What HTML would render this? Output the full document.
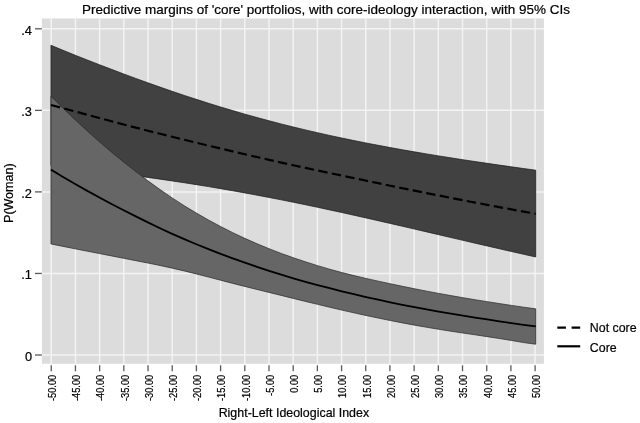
<!DOCTYPE html>
<html lang="en"><head><meta charset="utf-8"><title>Predictive margins</title>
<style>html,body{margin:0;padding:0;background:#fff}svg{display:block}</style></head>
<body>
<svg width="640" height="423" viewBox="0 0 640 423">
<rect width="640" height="423" fill="#fff"/>
<rect x="41.9" y="18.5" width="502.0" height="345.25" fill="#dcdcdc"/>
<g stroke="#f3f3f3" stroke-width="1.5"><line x1="51.25" y1="18.5" x2="51.25" y2="363.75"/><line x1="75.44" y1="18.5" x2="75.44" y2="363.75"/><line x1="99.64" y1="18.5" x2="99.64" y2="363.75"/><line x1="123.83" y1="18.5" x2="123.83" y2="363.75"/><line x1="148.02" y1="18.5" x2="148.02" y2="363.75"/><line x1="172.21" y1="18.5" x2="172.21" y2="363.75"/><line x1="196.41" y1="18.5" x2="196.41" y2="363.75"/><line x1="220.60" y1="18.5" x2="220.60" y2="363.75"/><line x1="244.79" y1="18.5" x2="244.79" y2="363.75"/><line x1="268.98" y1="18.5" x2="268.98" y2="363.75"/><line x1="293.18" y1="18.5" x2="293.18" y2="363.75"/><line x1="317.37" y1="18.5" x2="317.37" y2="363.75"/><line x1="341.56" y1="18.5" x2="341.56" y2="363.75"/><line x1="365.75" y1="18.5" x2="365.75" y2="363.75"/><line x1="389.94" y1="18.5" x2="389.94" y2="363.75"/><line x1="414.14" y1="18.5" x2="414.14" y2="363.75"/><line x1="438.33" y1="18.5" x2="438.33" y2="363.75"/><line x1="462.52" y1="18.5" x2="462.52" y2="363.75"/><line x1="486.72" y1="18.5" x2="486.72" y2="363.75"/><line x1="510.91" y1="18.5" x2="510.91" y2="363.75"/><line x1="535.10" y1="18.5" x2="535.10" y2="363.75"/><line x1="41.9" y1="355.00" x2="543.9" y2="355.00"/><line x1="41.9" y1="273.45" x2="543.9" y2="273.45"/><line x1="41.9" y1="191.90" x2="543.9" y2="191.90"/><line x1="41.9" y1="110.35" x2="543.9" y2="110.35"/><line x1="41.9" y1="28.80" x2="543.9" y2="28.80"/></g>
<path d="M50.95,45.28 L63.07,50.33 L75.19,55.24 L87.31,60.03 L99.43,64.72 L111.54,69.35 L123.66,73.93 L135.78,78.42 L147.90,82.82 L160.02,87.11 L172.14,91.30 L184.26,95.39 L196.38,99.37 L208.49,103.24 L220.61,106.99 L232.73,110.62 L244.85,114.13 L256.97,117.52 L269.09,120.79 L281.21,123.95 L293.33,126.98 L305.44,129.91 L317.56,132.72 L329.68,135.43 L341.80,138.04 L353.92,140.55 L366.04,142.97 L378.16,145.31 L390.28,147.57 L402.39,149.75 L414.51,151.86 L426.63,153.91 L438.75,155.90 L450.87,157.83 L462.99,159.72 L475.11,161.55 L487.23,163.35 L499.34,165.11 L511.46,166.83 L523.58,168.52 L535.70,170.18 L535.70,256.99 L523.58,254.27 L511.46,251.53 L499.34,248.76 L487.23,245.98 L475.11,243.18 L462.99,240.36 L450.87,237.54 L438.75,234.72 L426.63,231.89 L414.51,229.07 L402.39,226.26 L390.28,223.47 L378.16,220.69 L366.04,217.94 L353.92,215.22 L341.80,212.54 L329.68,209.90 L317.56,207.30 L305.44,204.76 L293.33,202.27 L281.21,199.84 L269.09,197.47 L256.97,195.17 L244.85,192.93 L232.73,190.76 L220.61,188.66 L208.49,186.62 L196.38,184.65 L184.26,182.75 L172.14,180.91 L160.02,179.13 L147.90,177.41 L135.78,175.75 L123.66,174.14 L111.54,172.59 L99.43,171.08 L87.31,169.62 L75.19,168.20 L63.07,166.82 L50.95,165.48Z" fill="#414141" stroke="#181818" stroke-width="0.7"/>
<path d="M50.95,96.15 L63.07,108.18 L75.19,119.80 L87.31,131.01 L99.43,141.78 L111.54,152.13 L123.66,162.06 L135.78,171.62 L147.90,180.80 L160.02,189.57 L172.14,197.90 L184.26,205.74 L196.38,213.09 L208.49,220.01 L220.61,226.52 L232.73,232.63 L244.85,238.36 L256.97,243.71 L269.09,248.71 L281.21,253.38 L293.33,257.74 L305.44,261.81 L317.56,265.63 L329.68,269.21 L341.80,272.53 L353.92,275.58 L366.04,278.43 L378.16,281.13 L390.28,283.74 L402.39,286.29 L414.51,288.76 L426.63,291.13 L438.75,293.40 L450.87,295.59 L462.99,297.69 L475.11,299.72 L487.23,301.67 L499.34,303.56 L511.46,305.39 L523.58,307.15 L535.70,308.86 L535.70,344.22 L523.58,342.57 L511.46,340.49 L499.34,338.50 L487.23,336.67 L475.11,334.83 L462.99,333.06 L450.87,331.23 L438.75,329.30 L426.63,327.27 L414.51,325.13 L402.39,322.88 L390.28,320.52 L378.16,318.05 L366.04,315.49 L353.92,312.83 L341.80,310.08 L329.68,307.25 L317.56,304.36 L305.44,301.42 L293.33,298.45 L281.21,295.45 L269.09,292.45 L256.97,289.46 L244.85,286.46 L232.73,283.38 L220.61,280.23 L208.49,277.07 L196.38,273.96 L184.26,270.97 L172.14,268.13 L160.02,265.49 L147.90,263.03 L135.78,260.66 L123.66,258.30 L111.54,255.91 L99.43,253.55 L87.31,251.19 L75.19,248.82 L63.07,246.40 L50.95,243.90Z" fill="#666" stroke="#262626" stroke-width="0.7"/>
<path d="M50.95,104.98 L63.07,108.22 L75.19,111.49 L87.31,114.75 L99.43,118.01 L111.54,121.25 L123.66,124.46 L135.78,127.63 L147.90,130.74 L160.02,133.79 L172.14,136.79 L184.26,139.76 L196.38,142.71 L208.49,145.63 L220.61,148.52 L232.73,151.39 L244.85,154.23 L256.97,157.05 L269.09,159.83 L281.21,162.59 L293.33,165.30 L305.44,167.94 L317.56,170.52 L329.68,173.08 L341.80,175.61 L353.92,178.13 L366.04,180.66 L378.16,183.20 L390.28,185.72 L402.39,188.21 L414.51,190.67 L426.63,193.10 L438.75,195.51 L450.87,197.89 L462.99,200.24 L475.11,202.56 L487.23,204.86 L499.34,207.13 L511.46,209.38 L523.58,211.60 L535.70,213.79" fill="none" stroke="#000" stroke-width="2.2" stroke-dasharray="9.4 4.37"/>
<path d="M50.95,169.62 L63.07,176.91 L75.19,183.99 L87.31,190.85 L99.43,197.51 L111.54,203.96 L123.66,210.21 L135.78,216.35 L147.90,222.36 L160.02,228.20 L172.14,233.83 L184.26,239.19 L196.38,244.26 L208.49,249.13 L220.61,253.82 L232.73,258.33 L244.85,262.67 L256.97,266.83 L269.09,270.84 L281.21,274.68 L293.33,278.32 L305.44,281.77 L317.56,285.06 L329.68,288.23 L341.80,291.29 L353.92,294.22 L366.04,297.03 L378.16,299.72 L390.28,302.30 L402.39,304.79 L414.51,307.17 L426.63,309.44 L438.75,311.62 L450.87,313.69 L462.99,315.67 L475.11,317.57 L487.23,319.46 L499.34,321.29 L511.46,323.07 L523.58,324.81 L535.70,326.39" fill="none" stroke="#000" stroke-width="1.8"/>
<g stroke="#5a5a5a" stroke-width="1.3"><line x1="51.25" y1="365.3" x2="51.25" y2="371.3"/><line x1="75.44" y1="365.3" x2="75.44" y2="371.3"/><line x1="99.64" y1="365.3" x2="99.64" y2="371.3"/><line x1="123.83" y1="365.3" x2="123.83" y2="371.3"/><line x1="148.02" y1="365.3" x2="148.02" y2="371.3"/><line x1="172.21" y1="365.3" x2="172.21" y2="371.3"/><line x1="196.41" y1="365.3" x2="196.41" y2="371.3"/><line x1="220.60" y1="365.3" x2="220.60" y2="371.3"/><line x1="244.79" y1="365.3" x2="244.79" y2="371.3"/><line x1="268.98" y1="365.3" x2="268.98" y2="371.3"/><line x1="293.18" y1="365.3" x2="293.18" y2="371.3"/><line x1="317.37" y1="365.3" x2="317.37" y2="371.3"/><line x1="341.56" y1="365.3" x2="341.56" y2="371.3"/><line x1="365.75" y1="365.3" x2="365.75" y2="371.3"/><line x1="389.94" y1="365.3" x2="389.94" y2="371.3"/><line x1="414.14" y1="365.3" x2="414.14" y2="371.3"/><line x1="438.33" y1="365.3" x2="438.33" y2="371.3"/><line x1="462.52" y1="365.3" x2="462.52" y2="371.3"/><line x1="486.72" y1="365.3" x2="486.72" y2="371.3"/><line x1="510.91" y1="365.3" x2="510.91" y2="371.3"/><line x1="535.10" y1="365.3" x2="535.10" y2="371.3"/><line x1="35" y1="355.00" x2="41.8" y2="355.00"/><line x1="35" y1="273.45" x2="41.8" y2="273.45"/><line x1="35" y1="191.90" x2="41.8" y2="191.90"/><line x1="35" y1="110.35" x2="41.8" y2="110.35"/><line x1="35" y1="28.80" x2="41.8" y2="28.80"/></g>
<g font-family="'Liberation Sans', Arial, Helvetica, sans-serif" fill="#000" stroke="#000" stroke-width="0.2">
<text x="326.0" y="13.85" font-size="12.7" text-anchor="middle" textLength="487.8" lengthAdjust="spacingAndGlyphs">Predictive margins of 'core' portfolios, with core-ideology interaction, with 95% CIs</text>
<text  x="32" y="360.85" font-size="12.8" text-anchor="end">0</text>
<text  x="32" y="279.30" font-size="12.8" text-anchor="end">.1</text>
<text  x="32" y="197.75" font-size="12.8" text-anchor="end">.2</text>
<text  x="32" y="116.20" font-size="12.8" text-anchor="end">.3</text>
<text  x="32" y="34.65" font-size="12.8" text-anchor="end">.4</text>
<text transform="translate(56.05,374.8) rotate(-90)" font-size="10" text-anchor="end" textLength="26.22" lengthAdjust="spacingAndGlyphs">-50.00</text>
<text transform="translate(80.24,374.8) rotate(-90)" font-size="10" text-anchor="end" textLength="26.22" lengthAdjust="spacingAndGlyphs">-45.00</text>
<text transform="translate(104.44,374.8) rotate(-90)" font-size="10" text-anchor="end" textLength="26.22" lengthAdjust="spacingAndGlyphs">-40.00</text>
<text transform="translate(128.63,374.8) rotate(-90)" font-size="10" text-anchor="end" textLength="26.22" lengthAdjust="spacingAndGlyphs">-35.00</text>
<text transform="translate(152.82,374.8) rotate(-90)" font-size="10" text-anchor="end" textLength="26.22" lengthAdjust="spacingAndGlyphs">-30.00</text>
<text transform="translate(177.01,374.8) rotate(-90)" font-size="10" text-anchor="end" textLength="26.22" lengthAdjust="spacingAndGlyphs">-25.00</text>
<text transform="translate(201.21,374.8) rotate(-90)" font-size="10" text-anchor="end" textLength="26.22" lengthAdjust="spacingAndGlyphs">-20.00</text>
<text transform="translate(225.40,374.8) rotate(-90)" font-size="10" text-anchor="end" textLength="26.22" lengthAdjust="spacingAndGlyphs">-15.00</text>
<text transform="translate(249.59,374.8) rotate(-90)" font-size="10" text-anchor="end" textLength="26.22" lengthAdjust="spacingAndGlyphs">-10.00</text>
<text transform="translate(273.78,374.8) rotate(-90)" font-size="10" text-anchor="end" textLength="21.08" lengthAdjust="spacingAndGlyphs">-5.00</text>
<text transform="translate(297.98,374.8) rotate(-90)" font-size="10" text-anchor="end" textLength="18.0" lengthAdjust="spacingAndGlyphs">0.00</text>
<text transform="translate(322.17,374.8) rotate(-90)" font-size="10" text-anchor="end" textLength="18.0" lengthAdjust="spacingAndGlyphs">5.00</text>
<text transform="translate(346.36,374.8) rotate(-90)" font-size="10" text-anchor="end" textLength="23.14" lengthAdjust="spacingAndGlyphs">10.00</text>
<text transform="translate(370.55,374.8) rotate(-90)" font-size="10" text-anchor="end" textLength="23.14" lengthAdjust="spacingAndGlyphs">15.00</text>
<text transform="translate(394.75,374.8) rotate(-90)" font-size="10" text-anchor="end" textLength="23.14" lengthAdjust="spacingAndGlyphs">20.00</text>
<text transform="translate(418.94,374.8) rotate(-90)" font-size="10" text-anchor="end" textLength="23.14" lengthAdjust="spacingAndGlyphs">25.00</text>
<text transform="translate(443.13,374.8) rotate(-90)" font-size="10" text-anchor="end" textLength="23.14" lengthAdjust="spacingAndGlyphs">30.00</text>
<text transform="translate(467.32,374.8) rotate(-90)" font-size="10" text-anchor="end" textLength="23.14" lengthAdjust="spacingAndGlyphs">35.00</text>
<text transform="translate(491.52,374.8) rotate(-90)" font-size="10" text-anchor="end" textLength="23.14" lengthAdjust="spacingAndGlyphs">40.00</text>
<text transform="translate(515.71,374.8) rotate(-90)" font-size="10" text-anchor="end" textLength="23.14" lengthAdjust="spacingAndGlyphs">45.00</text>
<text transform="translate(539.90,374.8) rotate(-90)" font-size="10" text-anchor="end" textLength="23.14" lengthAdjust="spacingAndGlyphs">50.00</text>
<text transform="translate(13.0,193.2) rotate(-90)" font-size="12.5" text-anchor="middle">P(Woman)</text>
<text x="293.9" y="417.3" font-size="12.4" text-anchor="middle" textLength="150.5" lengthAdjust="spacingAndGlyphs">Right-Left Ideological Index</text>
<text x="589.8" y="332.4" font-size="12.4">Not core</text>
<text x="589.8" y="352.2" font-size="12.4">Core</text>
</g>
<line x1="557.3" y1="327.6" x2="580.2" y2="327.6" stroke="#000" stroke-width="2.2" stroke-dasharray="8.6 5.7"/>
<line x1="557.3" y1="346.3" x2="580.2" y2="346.3" stroke="#000" stroke-width="2.2"/>
</svg>
</body></html>
